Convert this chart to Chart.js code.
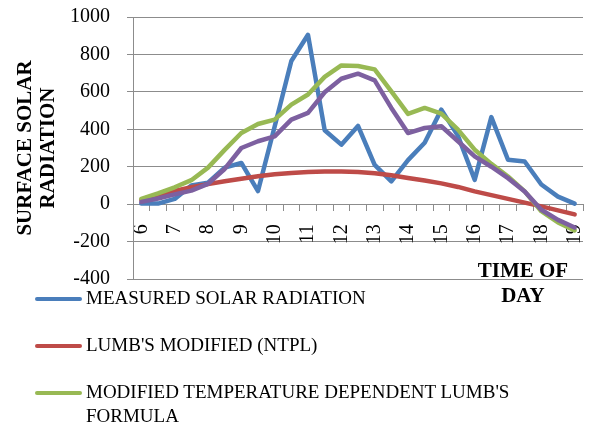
<!DOCTYPE html>
<html>
<head>
<meta charset="utf-8">
<script src="https://cdn.jsdelivr.net/npm/chart.js@4/dist/chart.umd.min.js"></script>
<style>
  html, body { margin: 0; padding: 0; background: #fff; }
  #wrap { position: relative; width: 590px; height: 425px; font-family: 'Liberation Serif', 'Times New Roman', serif; color: #000; }
  #chart { position: absolute; left: 0; top: 0; }
  .axis-title { position: absolute; font-weight: bold; font-size: 21px; line-height: 25px; text-align: center; }
  #legend { position: absolute; left: 35px; top: 286px; font-size: 19px; line-height: 24px; }
  .legend-item { position: relative; padding-left: 51px; width: 460px; margin-bottom: 23px; }
  .legend-item .swatch { position: absolute; left: 0; top: 11px; width: 47px; height: 4px; border-radius: 2px; }
</style>
</head>
<body>
<div id="wrap">
  <canvas id="chart" width="590" height="425"></canvas>
  <div class="axis-title" style="left:468px; top:258px; width:110px;">TIME OF<br>DAY</div>
  <div id="legend"></div>
</div>
<script>
/* Surface solar radiation vs time of day — half-hour steps, 6 to 19 */

var HOURS = ['6', '6.5', '7', '7.5', '8', '8.5', '9', '9.5', '10', '10.5', '11', '11.5', '12', '12.5',
             '13', '13.5', '14', '14.5', '15', '15.5', '16', '16.5', '17', '17.5', '18', '18.5', '19'];

var MEASURED = [3, 3, 28, 100, 115, 195, 220, 70, 415, 765, 905, 395, 318, 418,
                210, 122, 235, 328, 505, 365, 130, 465, 237, 228, 105, 40, 3];

var LUMB_NTPL = [22, 45, 70, 90, 107, 122, 136, 149, 160, 167, 172, 175, 175, 172,
                 165, 154, 140, 126, 111, 92, 68, 48, 28, 8, -12, -33, -55];

var MOD_TEMP_LUMB = [28, 57, 90, 128, 195, 290, 380, 428, 452, 532, 586, 680, 741, 738,
                     720, 603, 482, 514, 484, 398, 291, 215, 148, 68, -38, -98, -140];

var FOURTH_SERIES = [12, 30, 52, 72, 108, 188, 300, 336, 362, 452, 488, 598, 670, 697,
                     661, 514, 380, 407, 416, 336, 255, 200, 139, 68, -30, -84, -125];

var Y_TICKS = [-400, -200, 0, 200, 400, 600, 800, 1000];

var SERIES_NAMES = ['MEASURED SOLAR RADIATION', "LUMB'S MODIFIED (NTPL)",
                    "MODIFIED TEMPERATURE DEPENDENT LUMB'S FORMULA", ''];
var COLORS = ['#4A7EBB', '#BE4B48', '#98B954', '#7D60A0'];

(function () {
  'use strict';

  var GRID = '#8C8C8C';
  var SERIF = "'Liberation Serif', 'Times New Roman', serif";

  function line(name, data, color, order) {
    return {
      label: name,
      data: data,
      borderColor: color,
      backgroundColor: color,
      borderWidth: 4.5,
      borderJoinStyle: 'round',
      borderCapStyle: 'round',
      pointRadius: 0,
      tension: 0,
      order: order
    };
  }

  var datasets = [
    line(SERIES_NAMES[0], MEASURED, COLORS[0], 4),
    line(SERIES_NAMES[1], LUMB_NTPL, COLORS[1], 3),
    line(SERIES_NAMES[2], MOD_TEMP_LUMB, COLORS[2], 2),
    line(SERIES_NAMES[3], FOURTH_SERIES, COLORS[3], 1)
  ];

  new Chart(document.getElementById('chart'), {
    type: 'line',
    data: { labels: HOURS, datasets: datasets },
    options: {
      responsive: false,
      animation: false,
      layout: { padding: { left: 0, right: 7, top: 17, bottom: 146 } },
      plugins: { legend: { display: false }, tooltip: { enabled: false } },
      scales: {
        x: {
          position: { y: 0 },
          offset: true,
          grid: { offset: true, drawOnChartArea: false, color: GRID, tickLength: 6, lineWidth: 1 },
          border: { display: true, color: GRID, width: 1 },
          ticks: {
            autoSkip: false,
            minRotation: 90,
            maxRotation: 90,
            padding: 14,
            color: '#000',
            font: { family: SERIF, size: 20 },
            callback: function (v, i) {
              var h = HOURS[i];
              return h.indexOf('.') === -1 ? h : '';
            }
          },
          afterFit: function (s) { s.paddingLeft = 0; s.paddingRight = 0; }
        },
        y: {
          min: -400,
          max: 1000,
          afterBuildTicks: function (s) {
            s.ticks = Y_TICKS.map(function (v) { return { value: v }; });
          },
          grid: { color: GRID, tickLength: 6, lineWidth: 1 },
          border: { display: true, color: GRID, width: 1 },
          ticks: {
            padding: 17,
            color: '#000',
            font: { family: SERIF, size: 20 },
            callback: function (v) { return String(v); }
          },
          title: {
            display: true,
            text: ['SURFACE SOLAR', 'RADIATION'],
            color: '#000',
            font: { family: SERIF, size: 21, weight: 'bold', lineHeight: 1.1 },
            padding: { top: 14, bottom: 0 }
          },
          afterFit: function (s) {
            s.width = 133;
            s.paddingTop = 0;
            s.paddingBottom = 0;
          }
        }
      }
    }
  });

  // legend: the reference only shows the first three entries
  var legend = document.getElementById('legend');
  legend.innerHTML = SERIES_NAMES.slice(0, 3).map(function (name, i) {
    return '<div class="legend-item"><span class="swatch" style="background:' + COLORS[i] + '"></span>' +
      name + '</div>';
  }).join('');
})();
</script>
</body>
</html>
